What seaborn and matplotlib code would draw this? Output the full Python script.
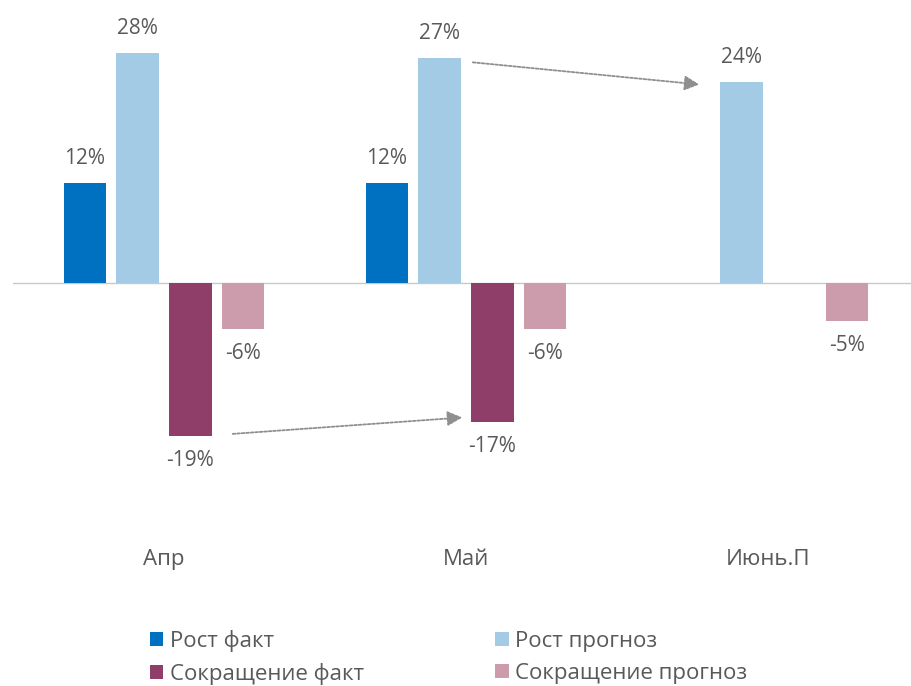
import numpy as np
import pandas as pd
import matplotlib
matplotlib.use("Agg")
import matplotlib.pyplot as plt
import seaborn as sns

# Data (bar heights estimated, labels rounded)
months = ["Апр", "Май", "Июнь.П"]
series_names = ["Рост факт", "Рост прогноз", "Сокращение факт", "Сокращение прогноз"]
rost_fakt = [12.2, 12.2, np.nan]
rost_prognoz = [28.0, 27.4, 24.5]
sokr_fakt = [-18.7, -17.0, np.nan]
sokr_prognoz = [-5.6, -5.6, -4.6]
colors = ["#0070c0", "#a3cbe6", "#8e3e68", "#cc9cad"]

rows = []
for name, vals in zip(series_names, [rost_fakt, rost_prognoz, sokr_fakt, sokr_prognoz]):
    for m, v in zip(months, vals):
        rows.append({"month": m, "series": name, "value": v})
df = pd.DataFrame(rows)

sns.set_style("white")
plt.rcParams["font.family"] = ["Open Sans", "DejaVu Sans"]
text_color = "#595959"

fig = plt.figure(figsize=(9.11, 6.86), dpi=100)
ax = fig.add_axes([13 / 911, 166 / 686, 906 / 911, 520 / 686])

sns.barplot(data=df, x="month", y="value", hue="series", hue_order=series_names,
            order=months, palette=colors, width=0.7, gap=0.2, errorbar=None,
            saturation=1, linewidth=0, ax=ax)

ax.set_xlim(-0.5, 2.5)
ax.set_ylim(-28.9, 34.5)
ax.axhline(0, color="#c8c8c8", lw=1, zorder=0)
for s in ax.spines.values():
    s.set_visible(False)
ax.set_yticks([])
ax.set_xlabel("")
ax.set_ylabel("")
ax.tick_params(axis="x", length=0, pad=21, labelsize=16, labelcolor=text_color)

for c in ax.containers:
    labels = [f"{round(b.get_height()):d}%" for b in c]
    ax.bar_label(c, labels=labels, padding=10, fontsize=15, color=text_color)

# trend arrows between the bars
arrow_kw = dict(arrowstyle="-|>,head_length=0.9,head_width=0.45",
                color="#8f8f8f", lw=1.3, linestyle=(0, (1.5, 1)),
                shrinkA=0, shrinkB=0)
c_rp = ax.containers[1]
c_sf = ax.containers[2]
b0, b1 = c_rp[1], c_rp[2]
ax.annotate("", xy=(b1.get_x() - 0.07, b1.get_height() - 0.3),
            xytext=(b0.get_x() + b0.get_width() + 0.04, b0.get_height() - 0.5),
            arrowprops=arrow_kw)
a0, a1 = c_sf[0], c_sf[1]
ax.annotate("", xy=(a1.get_x() - 0.03, a1.get_height() + 0.6),
            xytext=(a0.get_x() + a0.get_width() + 0.07, a0.get_height() + 0.3),
            arrowprops=arrow_kw)

handles, labels = ax.get_legend_handles_labels()
ax.get_legend().remove()
order = [0, 2, 1, 3]
fig.legend([handles[i] for i in order], [labels[i] for i in order],
           loc="upper left", bbox_to_anchor=(130 / 911, 1 - 610 / 686),
           ncol=2, frameon=False, fontsize=16, labelcolor=text_color,
           handlelength=0.6, handleheight=0.6, handletextpad=0.3,
           columnspacing=5.9, labelspacing=0.5)

fig.savefig("out.png", dpi=100)
